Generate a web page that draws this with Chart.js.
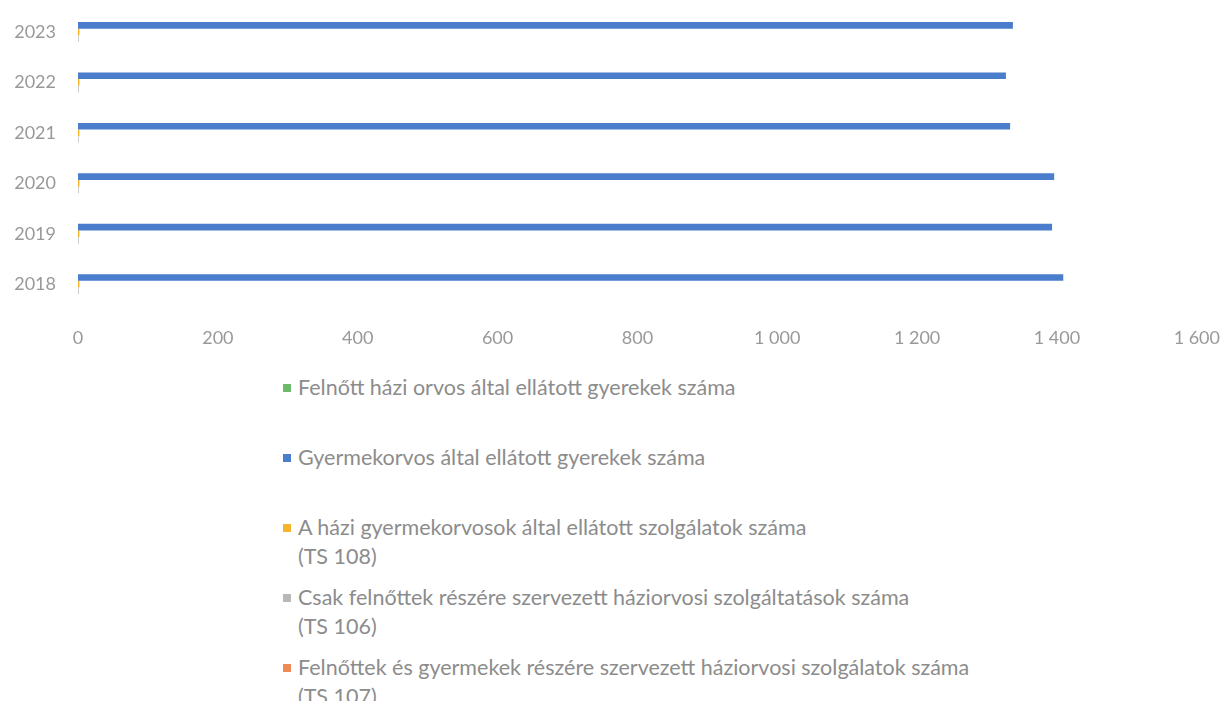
<!DOCTYPE html>
<html>
<head>
<meta charset="utf-8">
<script src="https://cdn.jsdelivr.net/npm/chart.js@4/dist/chart.umd.min.js"></script>
<style>
  body { margin: 0; background: #fff; width: 1228px; height: 701px; overflow: hidden; font-family: Lato, "Open Sans", sans-serif; position: relative; }
  #wrap { position: absolute; left: 0; top: -26px; width: 1238px; height: 393px; }
  #legend { position: absolute; left: 283px; top: 373px; color: #8c8c8c; font-size: 21.5px; line-height: 29px; }
  .item { position: relative; padding-left: 15px; margin-bottom: 12px; white-space: nowrap; }
  .item.single { margin-bottom: 41px; }
  .box { position: absolute; left: 0; top: 11px; width: 8px; height: 8px; }
</style>
</head>
<body>
<div id="wrap"><canvas id="chart"></canvas></div>
<div id="legend"></div>
<script>
// data
const years = ["2018", "2019", "2020", "2021", "2022", "2023"];
const seriesNames = [
  ["Felnőtt házi orvos által ellátott gyerekek száma"],
  ["Gyermekorvos által ellátott gyerekek száma"],
  ["A házi gyermekorvosok által ellátott szolgálatok száma", "(TS 108)"],
  ["Csak felnőttek részére szervezett háziorvosi szolgáltatások száma", "(TS 106)"],
  ["Felnőttek és gyermekek részére szervezett háziorvosi szolgálatok száma", "(TS 107)"]
];
const adultDocKids = [0, 0, 0, 0, 0, 0];
const pediatricianKids = [1409, 1393, 1396, 1333, 1327, 1337];
const ts108 = [2, 2, 2, 2, 2, 2];
const ts106 = [1, 1, 1, 1, 1, 1];
const ts107 = [0, 0, 0, 0, 0, 0];
const xTicks = [0, 200, 400, 600, 800, 1000, 1200, 1400, 1600];

const colors = ['#6dbb6a', '#4a7dcc', '#f5b42a', '#b8b8b8', '#ee8a55'];
const allSeries = [adultDocKids, pediatricianKids, ts108, ts106, ts107];

const chartData = {
  labels: years,
  datasets: allSeries.map((d, i) => ({
    label: seriesNames[i].join(' '),
    data: d,
    backgroundColor: colors[i],
    borderWidth: 0,
    categoryPercentage: 0.66,
    barPercentage: 1.0
  }))
};

// 1000 -> "1 000"
const fmt = v => String(v).replace(/\B(?=(\d{3})+(?!\d))/g, ' ');

const chartOptions = {
  indexAxis: 'y',
  responsive: true,
  maintainAspectRatio: false,
  animation: false,
  layout: { padding: 0 },
  scales: {
    x: {
      min: 0,
      max: 1600,
      grid: { display: false, drawTicks: false },
      border: { display: false },
      afterBuildTicks: s => { s.ticks = xTicks.map(v => ({ value: v })); },
      ticks: {
        padding: 18,
        color: '#999',
        font: { family: 'Lato', size: 18 },
        callback: v => fmt(v)
      }
    },
    y: {
      reverse: true,
      grid: { display: false, drawTicks: false },
      border: { display: false },
      afterFit: s => { s.width = 78; },
      ticks: {
        padding: 22,
        color: '#999',
        font: { family: 'Lato', size: 18 }
      }
    }
  },
  plugins: {
    legend: { display: false },
    tooltip: { enabled: false }
  }
};

new Chart(document.getElementById('chart'), {
  type: 'bar',
  data: chartData,
  options: chartOptions
});

// legend below chart
const legend = document.getElementById('legend');
seriesNames.forEach((lines, i) => {
  const item = document.createElement('div');
  item.className = 'item' + (lines.length === 1 ? ' single' : '');
  item.innerHTML = '<span class="box" style="background:' + colors[i] + '"></span>' + lines.join('<br>');
  legend.appendChild(item);
});
</script>
</body>
</html>
